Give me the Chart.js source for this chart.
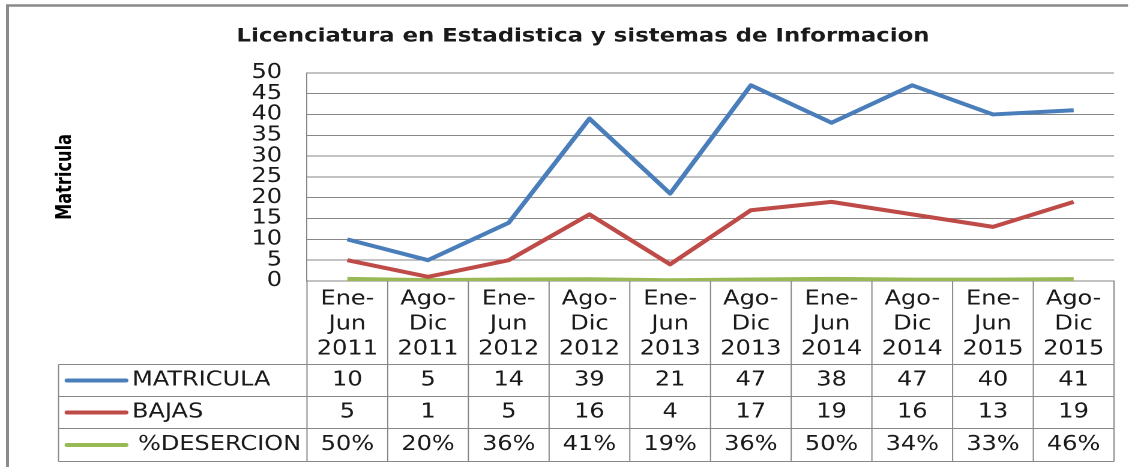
<!DOCTYPE html>
<html>
<head>
<meta charset="utf-8">
<title>Licenciatura en Estadistica y sistemas de Informacion</title>
<script src="https://cdn.jsdelivr.net/npm/chart.js"></script>
<style>
    html, body { margin: 0; padding: 0; background: #fff; overflow: hidden; }
    /* la imagen original esta estirada a lo ancho: se dibuja a 948px y se estira a 1138px */
    #wrap { width: 948px; height: 467px; transform: scaleX(1.20042); transform-origin: 0 0; }
</style>
</head>
<body>
<div id="wrap"><canvas id="grafica"></canvas></div>
<script>
const periodos = [
    ["Ene-", "Jun", "2011"], ["Ago-", "Dic", "2011"],
    ["Ene-", "Jun", "2012"], ["Ago-", "Dic", "2012"],
    ["Ene-", "Jun", "2013"], ["Ago-", "Dic", "2013"],
    ["Ene-", "Jun", "2014"], ["Ago-", "Dic", "2014"],
    ["Ene-", "Jun", "2015"], ["Ago-", "Dic", "2015"]
];
const matricula = [10, 5, 14, 39, 21, 47, 38, 47, 40, 41];
const bajas = [5, 1, 5, 16, 4, 17, 19, 16, 13, 19];
const desercion = [0.50, 0.20, 0.36, 0.41, 0.19, 0.36, 0.50, 0.34, 0.33, 0.46];
const ejeY = { min: 0, max: 50, paso: 5 };

const titulo = "Licenciatura en Estadistica y sistemas de Informacion";
const tituloEje = "Matricula";

const series = [
    { nombre: "MATRICULA", datos: matricula, color: "#4a7ebb", texto: v => String(v), dx: 0 },
    { nombre: "BAJAS", datos: bajas, color: "#be4b48", texto: v => String(v), dx: 0 },
    { nombre: "%DESERCION", datos: desercion, color: "#98b954", texto: v => Math.round(v * 100) + "%", dx: 6 }
];

const ESCALA = 1138 / 948;
const px = v => v / ESCALA;   // x de la imagen -> x del canvas
const GRIS = "#878787";
const TEXTO = "#1a1a1a";
Chart.defaults.font.family = "'DejaVu Sans', sans-serif";

// marco del grafico (solo arriba e izquierda se ven en la imagen)
const marco = {
    id: "marco",
    beforeDraw(chart) {
        const ctx = chart.ctx;
        ctx.save();
        ctx.fillStyle = "#fff";
        ctx.fillRect(0, 0, chart.width, chart.height);
        ctx.strokeStyle = "#8a8a8a";
        ctx.lineWidth = 2.5;
        ctx.beginPath();
        ctx.moveTo(px(7.5), chart.height);
        ctx.lineTo(px(7.5), 5.5);
        ctx.lineTo(px(1128), 5.5);
        ctx.stroke();
        ctx.restore();
    }
};

// tabla de datos debajo del eje x, alineada con las categorias
const tablaDatos = {
    id: "tablaDatos",
    afterDraw(chart) {
        const ctx = chart.ctx;
        const x = chart.scales.x;
        const ancho = x.getPixelForValue(1) - x.getPixelForValue(0);
        const bordes = periodos.map((p, i) => x.getPixelForValue(i) - ancho / 2);
        bordes.push(x.getPixelForValue(periodos.length - 1) + ancho / 2);
        const arriba = chart.chartArea.bottom;
        const filas = [364.5, 396.5, 428.5, 461.5];
        const izq = px(58.5);
        const der = bordes[bordes.length - 1];

        ctx.save();
        ctx.strokeStyle = GRIS;
        ctx.lineWidth = 1;
        ctx.beginPath();
        bordes.forEach(b => {
            ctx.moveTo(b, arriba);
            ctx.lineTo(b, filas[3]);
        });
        filas.forEach(f => {
            ctx.moveTo(izq, f);
            ctx.lineTo(der, f);
        });
        ctx.moveTo(izq, filas[0]);
        ctx.lineTo(izq, filas[3]);
        ctx.stroke();

        ctx.font = "20px 'DejaVu Sans', sans-serif";
        ctx.fillStyle = TEXTO;
        ctx.textBaseline = "middle";
        series.forEach((s, r) => {
            const cy = (filas[r] + filas[r + 1]) / 2;
            ctx.strokeStyle = s.color;
            ctx.lineWidth = 4;
            ctx.lineCap = "round";
            ctx.beginPath();
            ctx.moveTo(px(67), cy);
            ctx.lineTo(px(126), cy);
            ctx.stroke();
            ctx.textAlign = "left";
            ctx.fillText(s.nombre, px(132 + s.dx), cy);
            ctx.textAlign = "center";
            s.datos.forEach((v, i) => {
                ctx.fillText(s.texto(v), x.getPixelForValue(i), cy);
            });
        });
        ctx.restore();
    }
};

new Chart(document.getElementById("grafica"), {
    type: "line",
    data: {
        labels: periodos,
        datasets: series.map(s => ({
            label: s.nombre,
            data: s.datos,
            borderColor: s.color,
            backgroundColor: s.color,
            borderWidth: 4,
            borderJoinStyle: "round",
            pointRadius: 0,
            tension: 0,
            fill: false
        }))
    },
    options: {
        responsive: true,
        maintainAspectRatio: false,
        animation: false,
        devicePixelRatio: 2,
        layout: { padding: { left: px(52), right: px(24), top: 5, bottom: 0 } },
        plugins: {
            legend: { display: false },
            tooltip: { enabled: false },
            title: {
                display: true,
                text: titulo,
                color: TEXTO,
                font: { size: 19, weight: "bold" },
                padding: { top: 20, bottom: 25 }
            }
        },
        scales: {
            x: {
                offset: true,
                grid: { drawOnChartArea: false, drawTicks: false },
                border: { color: GRIS, width: 1 },
                ticks: {
                    autoSkip: false,
                    maxRotation: 0,
                    color: TEXTO,
                    padding: 6,
                    font: { size: 20, lineHeight: 1.25 }
                },
                afterFit: s => { s.height = 186; }
            },
            y: {
                min: ejeY.min,
                max: ejeY.max,
                grid: { color: GRIS, drawTicks: false },
                border: { color: GRIS, width: 1 },
                ticks: {
                    stepSize: ejeY.paso,
                    autoSkip: false,
                    color: TEXTO,
                    padding: px(25),
                    font: { size: 20 }
                },
                title: {
                    display: true,
                    text: tituloEje,
                    color: "#000",
                    padding: 0,
                    font: { family: "'Liberation Sans Narrow', 'DejaVu Sans Condensed', sans-serif", size: 18, weight: "bold" }
                },
                afterFit: s => { s.width = px(307 - 52); }
            }
        }
    },
    plugins: [marco, tablaDatos]
});
</script>
</body>
</html>
